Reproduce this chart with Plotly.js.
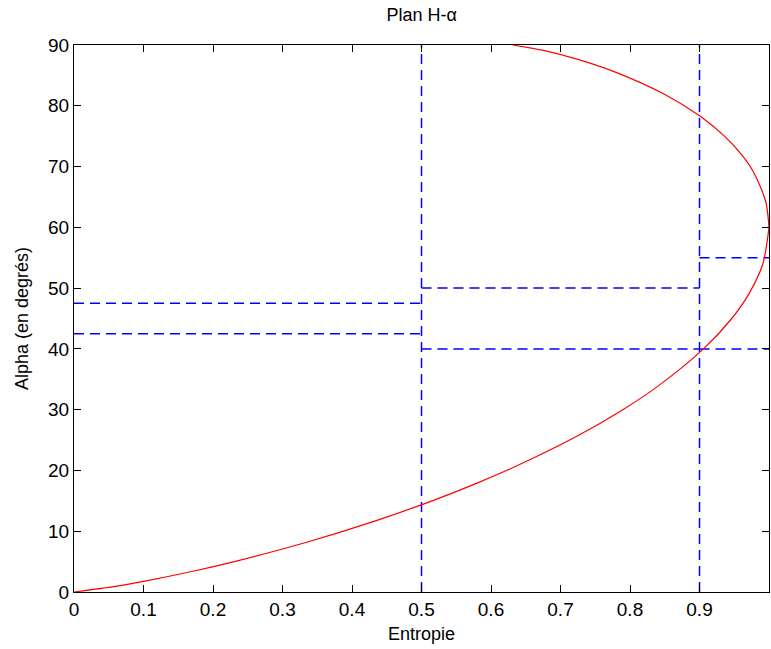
<!DOCTYPE html>
<html>
<head>
<meta charset="utf-8">
<script src="https://cdn.plot.ly/plotly-3.0.1.min.js"></script>
<style>html,body{margin:0;padding:0;background:#fff;}#chart{width:771px;height:649px;}</style>
</head>
<body>
<div id="chart"></div>
<script>
// Lower boundary curve (entropy, alpha in degrees)
var lowerH = [0, 0.0568, 0.1002, 0.1727, 0.2337, 0.3347, 0.4348, 0.5153, 0.5817, 0.6373, 0.7248, 0.7897, 0.8388, 0.9057, 0.9464, 0.9713, 0.9912, 1.0];
var lowerA = [0, 0.89, 1.76, 3.46, 5.09, 8.18, 11.74, 15.0, 18.0, 20.77, 25.71, 30.0, 33.75, 40.0, 45.0, 49.09, 54.0, 60.0];
// Upper boundary curve
var upperH = [0.6309, 0.6752, 0.7199, 0.7752, 0.8509, 0.9011, 0.9359, 0.9602, 0.9771, 0.9952, 1.0];
var upperA = [90, 89.11, 87.80, 85.71, 81.82, 78.26, 75.0, 72.0, 69.23, 64.29, 60.0];
// Zone boundaries
var vLinesH = [0.5, 0.9];
var vLinesA = [0, 90];
var hSegments = [
  {h: [0, 0.5], a: 47.5}, {h: [0, 0.5], a: 42.5},
  {h: [0.5, 0.9], a: 50}, {h: [0.5, 0.9], a: 40},
  {h: [0.9, 1.0], a: 55}, {h: [0.9, 1.0], a: 40}
];
var xTicks = [0, 0.1, 0.2, 0.3, 0.4, 0.5, 0.6, 0.7, 0.8, 0.9, 1];
var yTicks = [0, 10, 20, 30, 40, 50, 60, 70, 80, 90];

var dashStyle = {color: '#0000ff', width: 1.5, dash: '10px,6px'};
var traces = [];
vLinesH.forEach(function (h) {
  traces.push({x: [h, h], y: vLinesA, mode: 'lines', line: dashStyle, hoverinfo: 'skip'});
});
hSegments.forEach(function (s) {
  traces.push({x: s.h, y: [s.a, s.a], mode: 'lines', line: dashStyle, hoverinfo: 'skip'});
});
traces.push({x: lowerH, y: lowerA, mode: 'lines', line: {color: '#ff0000', width: 1.2, shape: 'spline', smoothing: 0.8}});
traces.push({x: upperH, y: upperA, mode: 'lines', line: {color: '#ff0000', width: 1.2, shape: 'spline', smoothing: 0.8}});

var font = 'Liberation Sans, Arial, sans-serif';
var layout = {
  width: 771, height: 649,
  margin: {l: 74, r: 2, t: 45, b: 57},
  paper_bgcolor: '#ffffff', plot_bgcolor: '#ffffff',
  showlegend: false,
  font: {family: font, size: 19, color: '#000'},
  title: {text: 'Plan H-α', x: 0.547, xanchor: 'center', y: 0.978, yanchor: 'middle', font: {family: font, size: 18, color: '#000'}},
  xaxis: {
    range: [0, 1], tickvals: xTicks, ticktext: xTicks.map(String),
    showgrid: false, zeroline: false, showline: true, linecolor: '#000', linewidth: 1,
    mirror: 'allticks', ticks: 'inside', ticklen: 7, tickcolor: '#000',
    tickfont: {family: font, size: 19},
    title: {text: 'Entropie', font: {family: font, size: 18}, standoff: 8}
  },
  yaxis: {
    range: [0, 90], tickvals: yTicks,
    showgrid: false, zeroline: false, showline: true, linecolor: '#000', linewidth: 1,
    mirror: 'allticks', ticks: 'inside', ticklen: 7, tickcolor: '#000',
    tickfont: {family: font, size: 19},
    title: {text: 'Alpha (en degrés)', font: {family: font, size: 18}, standoff: 14}
  }
};
Plotly.newPlot('chart', traces, layout, {staticPlot: true});
</script>
</body>
</html>
